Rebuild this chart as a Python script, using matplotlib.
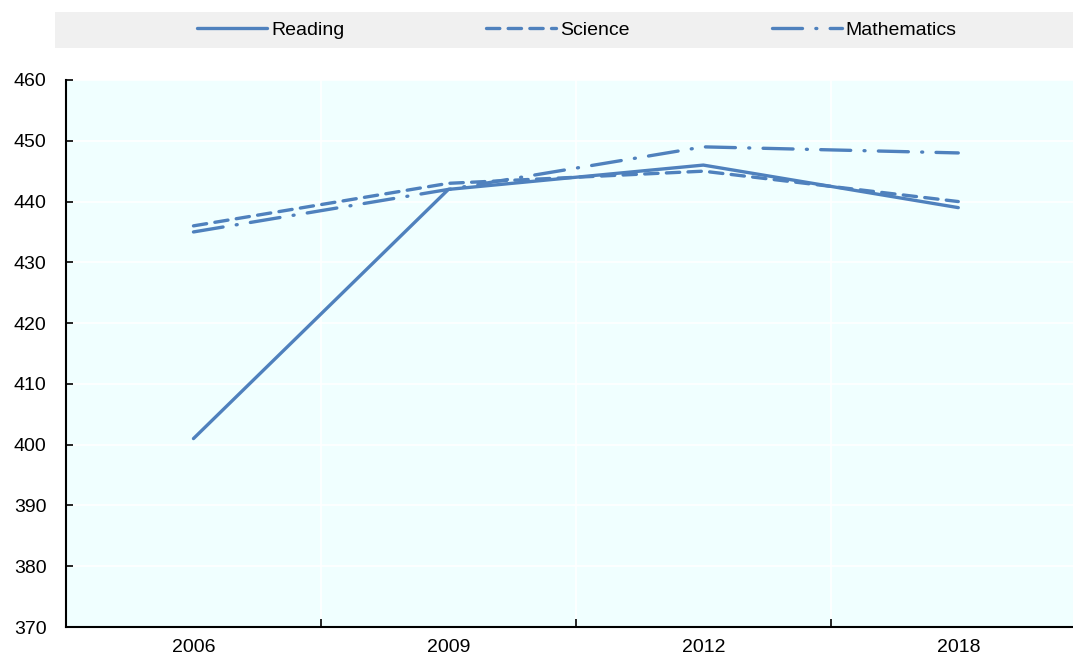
import matplotlib
matplotlib.use("Agg")
import matplotlib.pyplot as plt
from matplotlib.patches import Rectangle

plt.rcParams['font.family'] = ['Liberation Sans', 'DejaVu Sans']
fs = 14

years = ["2006", "2009", "2012", "2018"]
reading = [401, 442, 446, 439]
science = [436, 443, 445, 440]
mathematics = [435, 442, 449, 448]
yticks = [370, 380, 390, 400, 410, 420, 430, 440, 450, 460]

color = '#4F81BD'
W, H = 1073, 660
fig = plt.figure(figsize=(W/100, H/100), dpi=100)
ax = fig.add_axes([66/W, 1-627/H, (1073-66)/W, (627-80)/H])
ax.set_facecolor('#F0FFFF')

x = list(range(len(years)))
lw = 2.4
l1, = ax.plot(x, reading, color=color, lw=lw, solid_capstyle='round', label='Reading')
l2, = ax.plot(x, science, color=color, lw=lw, linestyle=(0, (4, 2.5)), dash_capstyle='round', label='Science')
l3, = ax.plot(x, mathematics, color=color, lw=lw, linestyle=(0, (9, 4, 0.3, 4)), dash_capstyle='round', label='Mathematics')

ax.set_ylim(370, 460)
ax.set_yticks(yticks)
ax.set_xlim(-0.5, 3.45)
ax.set_xticks(x)
ax.set_xticklabels(years)
ax.set_xticks([0.5, 1.5, 2.5], minor=True)
ax.tick_params(axis='x', which='major', length=0, labelsize=fs, pad=9)
ax.tick_params(axis='x', which='minor', length=6, width=1.2, direction='in', color='black')
ax.tick_params(axis='y', length=5, width=1.2, direction='in', labelsize=fs, pad=14)

for yv in yticks[1:]:
    ax.axhline(yv, color='white', lw=1.2, zorder=0.5)
for xv in [0.5, 1.5, 2.5]:
    ax.axvline(xv, color='white', lw=1.2, zorder=0.5)

for s in ['top', 'right']:
    ax.spines[s].set_visible(False)
for s in ['left', 'bottom']:
    ax.spines[s].set_linewidth(1.5)
    ax.spines[s].set_color('black')

fig.patches.append(Rectangle((55/W, 1-48/H), (1073-55)/W, 36/H, transform=fig.transFigure,
                             facecolor='#F0F0F0', edgecolor='none', zorder=0))
fig.legend(handles=[l1, l2, l3], loc='center', bbox_to_anchor=(577/W, 1-30/H), ncol=3,
           frameon=False, fontsize=fs, handlelength=3.6, handletextpad=0.2, columnspacing=7.3,
           borderaxespad=0, borderpad=0)

fig.savefig('out.png', dpi=100)
